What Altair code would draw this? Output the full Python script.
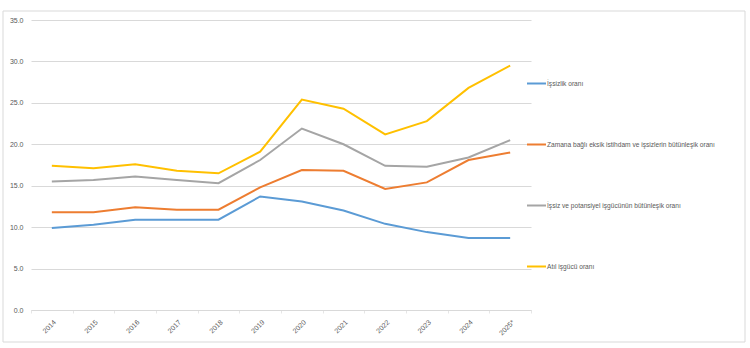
import altair as alt
import pandas as pd

years = ["2014", "2015", "2016", "2017", "2018", "2019", "2020", "2021", "2022", "2023", "2024", "2025*"]
series_names = [
    "İşsizlik oranı",
    "Zamana bağlı eksik istihdam ve işsizlerin bütünleşik oranı",
    "İşsiz ve potansiyel işgücünün bütünleşik oranı",
    "Atıl işgücü oranı",
]
issizlik = [9.9, 10.3, 10.9, 10.9, 10.9, 13.7, 13.1, 12.0, 10.4, 9.4, 8.7, 8.7]
zamana = [11.8, 11.8, 12.4, 12.1, 12.1, 14.8, 16.9, 16.8, 14.6, 15.4, 18.1, 19.0]
potansiyel = [15.5, 15.7, 16.1, 15.7, 15.3, 18.1, 21.9, 20.0, 17.4, 17.3, 18.4, 20.5]
atil = [17.4, 17.1, 17.6, 16.8, 16.5, 19.1, 25.4, 24.3, 21.2, 22.8, 26.8, 29.5]
colors = ["#5B9BD5", "#ED7D31", "#A5A5A5", "#FFC000"]
y_ticks = [0, 5, 10, 15, 20, 25, 30, 35]

rows = []
for name, vals in zip(series_names, [issizlik, zamana, potansiyel, atil]):
    for yr, v in zip(years, vals):
        rows.append({"year": yr, "value": v, "series": name, "order": series_names.index(name)})
df = pd.DataFrame(rows)

FONT = "Liberation Sans"

lines = alt.Chart(df).mark_line(strokeWidth=2).encode(
    x=alt.X(
        "year:O",
        sort=years,
        scale=alt.Scale(type="band", paddingInner=0, paddingOuter=0),
        bandPosition=0.5,
        axis=alt.Axis(
            title=None,
            labelAngle=315,
            labelFontSize=7,
            labelColor="#595959",
            labelFont=FONT,
            domainColor="#D9D9D9",
            tickColor="#E6E6E6",
            tickSize=3,
            tickBand="extent",
            grid=False,
            labelPadding=5,
        ),
    ),
    y=alt.Y(
        "value:Q",
        scale=alt.Scale(domain=[0, 35], nice=False),
        axis=alt.Axis(
            title=None,
            values=y_ticks,
            format=".1f",
            labelFontSize=7,
            labelColor="#595959",
            labelFont=FONT,
            domain=False,
            ticks=False,
            gridColor="#D9D9D9",
            labelPadding=8,
        ),
    ),
    color=alt.Color(
        "series:N",
        scale=alt.Scale(domain=series_names, range=colors),
        legend=alt.Legend(
            title=None,
            orient="none",
            legendX=495,
            legendY=53,
            symbolType="stroke",
            symbolSize=361,
            symbolStrokeWidth=2,
            labelFontSize=6.6,
            labelFont=FONT,
            labelColor="#595959",
            labelLimit=400,
            labelOffset=0,
            rowPadding=46,
        ),
    ),
    order=alt.Order("order:Q"),
)

frame = alt.Chart(pd.DataFrame({"a": [0]})).mark_rect(
    fill="transparent", stroke="#D9D9D9", strokeWidth=1
).encode(
    x=alt.value(-28), x2=alt.value(714), y=alt.value(-9), y2=alt.value(322)
)

chart = (
    alt.layer(frame, lines)
    .properties(
        width=500,
        height=290,
        background="white",
        padding={"left": 31, "top": 20, "right": 219, "bottom": 38},
        autosize=alt.AutoSizeParams(type="none"),
    )
    .configure_view(strokeWidth=0, stroke="transparent")
)

chart.save("out.html", embed_options={"renderer": "svg", "actions": False})
